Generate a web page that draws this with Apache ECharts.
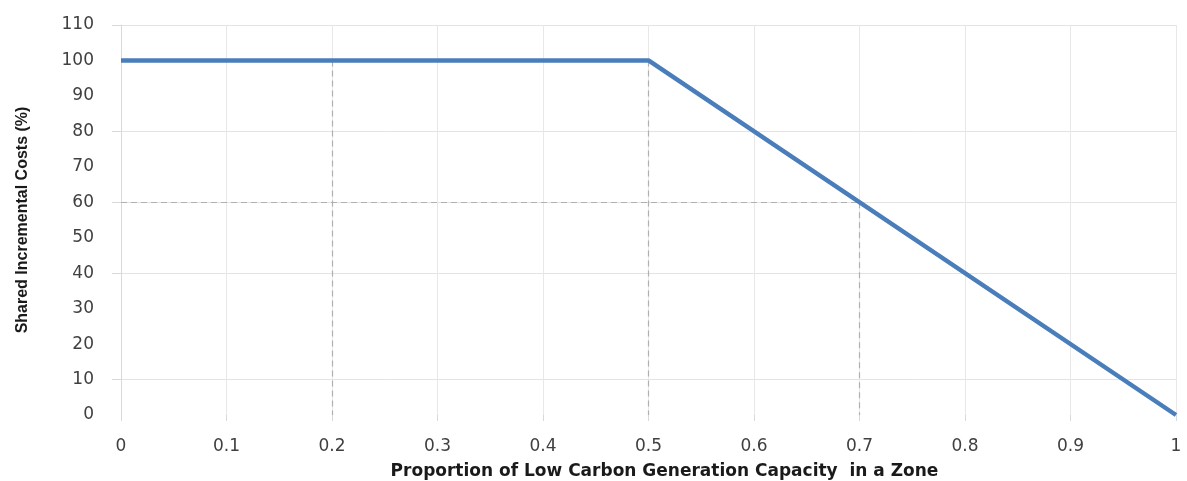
<!DOCTYPE html>
<html>
<head>
<meta charset="utf-8">
<script src="https://cdn.jsdelivr.net/npm/echarts@6/dist/echarts.min.js"></script>
<style>
html,body{margin:0;padding:0;background:#fff;}
#chart{width:1187px;height:481px;}
</style>
</head>
<body>
<div id="chart"></div>
<script>
// Data
const curveX = [0, 0.5, 1];
const curveY = [100, 100, 0];
const yTickValues = [10, 40, 60, 80, 110];
const guideVX = [0.2, 0.5, 0.7];
const guideVTop = [100, 100, 60];
const guideHY = [60];
const guideHEnd = [0.7];

const chart = echarts.init(document.getElementById('chart'));

const lineData = curveX.map((x, i) => [x, curveY[i]]);
const guideLines = [];
guideVX.forEach((x, i) => {
  guideLines.push([{ coord: [x, guideVTop[i]] }, { coord: [x, 0] }]);
});
guideHY.forEach((y, i) => {
  guideLines.push([{ coord: [0, y] }, { coord: [guideHEnd[i], y] }]);
});

const tickFont = { fontFamily: 'DejaVu Sans', fontSize: 17, color: '#404040' };

chart.setOption({
  animation: false,
  backgroundColor: '#fff',
  grid: { left: 121, right: 11, top: 25, bottom: 66, outerBoundsMode: 'none', containLabel: false },
  xAxis: {
    type: 'value',
    min: 0, max: 1, interval: 0.1,
    name: 'Proportion of Low Carbon Generation Capacity  in a Zone',
    nameLocation: 'middle',
    nameGap: 48,
    nameTextStyle: { fontFamily: 'DejaVu Sans', fontWeight: 'bold', fontSize: 17, color: '#1a1a1a', padding: [0, 0, 0, 32] },
    axisLine: { show: false },
    axisTick: { show: true, length: 6, lineStyle: { color: '#d9d9d9' } },
    axisLabel: Object.assign({ margin: 23 }, tickFont),
    splitLine: { show: true, lineStyle: { color: '#e8e8e8', width: 1 } }
  },
  yAxis: {
    type: 'value',
    min: 0, max: 110, interval: 10,
    name: 'Shared Incremental Costs (%)',
    nameLocation: 'middle',
    nameGap: 90,
    nameRotate: 90,
    nameTextStyle: { fontFamily: 'Liberation Sans', fontWeight: 'bold', fontSize: 16, color: '#1a1a1a' },
    axisLine: { show: true, lineStyle: { color: '#d9d9d9' } },
    axisTick: { show: true, length: 9, customValues: yTickValues, lineStyle: { color: '#d9d9d9' } },
    axisLabel: Object.assign({ margin: 27 }, tickFont),
    splitLine: { show: true, lineStyle: { color: '#e3e3e3', width: 1 } }
  },
  series: [
    {
      type: 'line',
      data: [],
      silent: true,
      z: 1,
      markLine: {
        silent: true,
        symbol: ['none', 'none'],
        label: { show: false },
        lineStyle: { type: [6, 4], color: '#b0b0b0', width: 1.2 },
        data: guideLines
      }
    },
    {
      type: 'line',
      data: lineData,
      showSymbol: false,
      symbol: 'none',
      z: 5,
      lineStyle: { color: '#4a7ebb', width: 4.5 }
    }
  ]
});
</script>
</body>
</html>
